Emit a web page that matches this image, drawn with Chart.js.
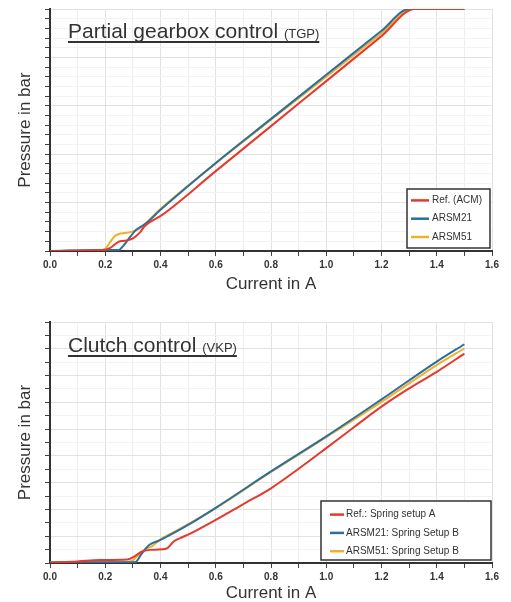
<!DOCTYPE html>
<html>
<head>
<meta charset="utf-8">
<script src="https://cdn.jsdelivr.net/npm/chart.js@4.4.0/dist/chart.umd.min.js"></script>
<style>
  html, body { margin: 0; padding: 0; background: #fff; }
  .panel { position: absolute; left: 0; width: 511px; }
  #top { top: 0; height: 300px; }
  #bottom { top: 300px; height: 302px; }
</style>
</head>
<body>
<div class="panel" id="top"><canvas id="tgpChart"></canvas></div>
<div class="panel" id="bottom"><canvas id="vkpChart"></canvas></div>
<script>
// Partial gearbox control (TGP)
const tgpRefCurrent = [0, 0.19, 0.217, 0.248, 0.27, 0.30, 0.325, 0.344, 0.405, 0.6, 0.8, 1.0, 1.2, 1.32, 1.5];
const tgpRefPressure = [0, 0.2, 0.6, 1.9, 2.1, 2.6, 3.8, 5.2, 7.4, 16.5, 25.8, 35.1, 44.4, 50, 50];
const tgpArsm21Current = [0, 0.19, 0.247, 0.27, 0.29, 0.31, 0.345, 0.4, 0.6, 0.8, 1.0, 1.2, 1.3, 1.5];
const tgpArsm21Pressure = [0, 0.2, 0.2, 1.4, 2.9, 4.3, 5.6, 8.5, 18.2, 27.3, 36.4, 45.5, 50, 50];
const tgpArsm51Current = [0, 0.19, 0.2, 0.215, 0.235, 0.25, 0.27, 0.29, 0.31, 0.328, 0.344, 0.4, 0.6, 0.8, 1.0, 1.2, 1.31, 1.5];
const tgpArsm51Pressure = [0, 0.2, 0.4, 1.6, 3.1, 3.5, 3.7, 3.9, 4.2, 4.8, 5.6, 8.7, 18.1, 27.1, 36.0, 45.0, 50, 50];

// Clutch control (VKP)
const vkpRefCurrent = [0, 0.1, 0.18, 0.28, 0.3, 0.331, 0.361, 0.39, 0.42, 0.45, 0.48, 0.5, 0.6, 0.7, 0.8, 0.9, 1.0, 1.1, 1.2, 1.3, 1.4, 1.5];
const vkpRefPressure = [0.2, 0.6, 1.1, 1.3, 2.1, 4.2, 4.9, 5.0, 5.3, 8.2, 9.7, 10.6, 16.1, 22.0, 27.9, 35.2, 42.9, 50.7, 58.4, 65.2, 71.4, 78.2];
const vkpArsm21Current = [0, 0.28, 0.31, 0.33, 0.36, 0.4, 0.45, 0.5, 0.6, 0.8, 1.0, 1.2, 1.4, 1.5];
const vkpArsm21Pressure = [0.2, 0.3, 0.4, 3.2, 6.8, 8.6, 11.3, 14.2, 20.6, 34.2, 47.3, 61.1, 75.2, 81.7];
const vkpArsm51Current = [0, 0.28, 0.3, 0.32, 0.345, 0.37, 0.4, 0.45, 0.5, 0.6, 0.8, 1.0, 1.2, 1.4, 1.5];
const vkpArsm51Pressure = [0.3, 0.4, 1.0, 3.0, 5.2, 6.3, 8.8, 11.6, 14.5, 20.5, 34.0, 47.0, 60.2, 73.9, 80.1];

const seriesLabelsTgp = ['Ref. (ACM)', 'ARSM21', 'ARSM51'];
const seriesLabelsVkp = ['Ref.: Spring setup A', 'ARSM21: Spring Setup B', 'ARSM51: Spring Setup B'];
const seriesColors = ['#e5392e', '#2b6f9f', '#f1b02a'];

Chart.defaults.font.family = '"Liberation Sans", Arial, sans-serif';
Chart.defaults.color = '#333';

function toPoints(xs, ys) {
    return xs.map((x, i) => ({ x: x, y: ys[i] }));
}

function makeDataset(label, color, xs, ys) {
    return {
        label: label,
        data: toPoints(xs, ys),
        borderColor: color,
        backgroundColor: color,
        borderWidth: 2,
        pointRadius: 0,
        cubicInterpolationMode: 'monotone',
        fill: false
    };
}

// title drawn inside the plot, underlined
const panelTitle = {
    id: 'panelTitle',
    afterDraw(chart, args, opts) {
        const { ctx, chartArea } = chart;
        const x = chartArea.left + opts.dx;
        const y = chartArea.top + opts.dy;
        ctx.save();
        ctx.fillStyle = '#333';
        ctx.textBaseline = 'alphabetic';
        ctx.font = '21px "Liberation Sans", Arial, sans-serif';
        ctx.fillText(opts.text, x, y);
        const w1 = ctx.measureText(opts.text + ' ').width;
        ctx.font = '13px "Liberation Sans", Arial, sans-serif';
        ctx.fillText(opts.suffix, x + w1, y);
        const w2 = ctx.measureText(opts.suffix).width;
        ctx.strokeStyle = '#333';
        ctx.lineWidth = 2;
        ctx.beginPath();
        ctx.moveTo(x, y + 4);
        ctx.lineTo(x + w1 + w2, y + 4);
        ctx.stroke();
        ctx.restore();
    }
};

// boxed legend in lower right corner of plot
const boxLegend = {
    id: 'boxLegend',
    afterDraw(chart, args, opts) {
        const { ctx, chartArea } = chart;
        const x = chartArea.right - opts.right - opts.width;
        const y = chartArea.bottom - opts.bottom - opts.height;
        ctx.save();
        ctx.fillStyle = '#fff';
        ctx.fillRect(x, y, opts.width, opts.height);
        ctx.strokeStyle = '#333';
        ctx.lineWidth = 1.5;
        ctx.strokeRect(x, y, opts.width, opts.height);
        ctx.font = '10px "Liberation Sans", Arial, sans-serif';
        ctx.textBaseline = 'middle';
        chart.data.datasets.forEach((ds, i) => {
            const rowY = y + opts.firstRow + i * opts.rowGap;
            ctx.strokeStyle = ds.borderColor;
            ctx.lineWidth = 2.5;
            ctx.beginPath();
            ctx.moveTo(x + opts.lineStart, rowY);
            ctx.lineTo(x + opts.lineEnd, rowY);
            ctx.stroke();
            ctx.fillStyle = '#333';
            ctx.fillText(ds.label, x + opts.textStart, rowY);
        });
        ctx.restore();
    }
};

function isMajor(value, step) {
    const r = value / step;
    return Math.abs(r - Math.round(r)) < 1e-6;
}

function makeOptions(cfg) {
    return {
        responsive: true,
        maintainAspectRatio: false,
        animation: false,
        layout: { padding: { top: cfg.padTop, right: 19, left: 0, bottom: 0 } },
        plugins: {
            legend: { display: false },
            tooltip: { enabled: false },
            panelTitle: cfg.title,
            boxLegend: cfg.legend
        },
        scales: {
            x: {
                type: 'linear',
                min: 0,
                max: 1.6,
                afterFit: scale => { scale.height = cfg.xHeight; },
                ticks: {
                    stepSize: 0.1,
                    autoSkip: false,
                    maxRotation: 0,
                    padding: 3,
                    font: { size: 10, weight: 'bold' },
                    color: '#333',
                    callback: v => (Math.round(v * 10) % 2 === 0 ? v.toFixed(1) : '')
                },
                grid: {
                    color: c => (isMajor(c.tick.value, 0.2) ? '#e2e2e2' : '#efefef'),
                    tickColor: '#444',
                    tickLength: 5,
                    lineWidth: 1
                },
                border: { color: '#333', width: 2 },
                title: {
                    display: true,
                    text: 'Current in A',
                    font: { size: 17 },
                    color: '#333',
                    padding: { top: 0, bottom: cfg.xTitlePad }
                }
            },
            y: {
                min: 0,
                max: cfg.yMax,
                afterFit: scale => { scale.width = 50; },
                ticks: {
                    stepSize: cfg.yMinor,
                    display: false
                },
                grid: {
                    color: c => (isMajor(c.tick.value, cfg.yMajor) ? '#e2e2e2' : '#f3f3f3'),
                    tickColor: '#444',
                    tickLength: 5,
                    lineWidth: 1
                },
                border: { color: '#333', width: 2 },
                title: {
                    display: true,
                    text: 'Pressure in bar',
                    font: { size: 17 },
                    color: '#333',
                    padding: { top: 15, bottom: 0 }
                }
            }
        }
    };
}

const tgpCtx = document.getElementById('tgpChart').getContext('2d');
const tgpChart = new Chart(tgpCtx, {
    type: 'line',
    data: {
        datasets: [
            makeDataset(seriesLabelsTgp[0], seriesColors[0], tgpRefCurrent, tgpRefPressure),
            makeDataset(seriesLabelsTgp[1], seriesColors[1], tgpArsm21Current, tgpArsm21Pressure),
            makeDataset(seriesLabelsTgp[2], seriesColors[2], tgpArsm51Current, tgpArsm51Pressure)
        ]
    },
    options: makeOptions({
        padTop: 9,
        xHeight: 49,
        xTitlePad: 5,
        yMax: 50,
        yMajor: 10,
        yMinor: 2,
        title: { text: 'Partial gearbox control', suffix: '(TGP)', dx: 18, dy: 29 },
        legend: { width: 83, height: 59, right: 2, bottom: 3, firstRow: 11.4, rowGap: 18.3, lineStart: 4, lineEnd: 22, textStart: 25 }
    }),
    plugins: [panelTitle, boxLegend]
});

const vkpCtx = document.getElementById('vkpChart').getContext('2d');
const vkpChart = new Chart(vkpCtx, {
    type: 'line',
    data: {
        datasets: [
            makeDataset(seriesLabelsVkp[0], seriesColors[0], vkpRefCurrent, vkpRefPressure),
            makeDataset(seriesLabelsVkp[1], seriesColors[1], vkpArsm21Current, vkpArsm21Pressure),
            makeDataset(seriesLabelsVkp[2], seriesColors[2], vkpArsm51Current, vkpArsm51Pressure)
        ]
    },
    options: makeOptions({
        padTop: 22,
        xHeight: 39,
        xTitlePad: -2,
        yMax: 90,
        yMajor: 10,
        yMinor: 5,
        title: { text: 'Clutch control', suffix: '(VKP)', dx: 18, dy: 30 },
        legend: { width: 170, height: 59, right: 1, bottom: 3, firstRow: 13.6, rowGap: 18.3, lineStart: 9, lineEnd: 23, textStart: 25 }
    }),
    plugins: [panelTitle, boxLegend]
});
</script>
</body>
</html>
